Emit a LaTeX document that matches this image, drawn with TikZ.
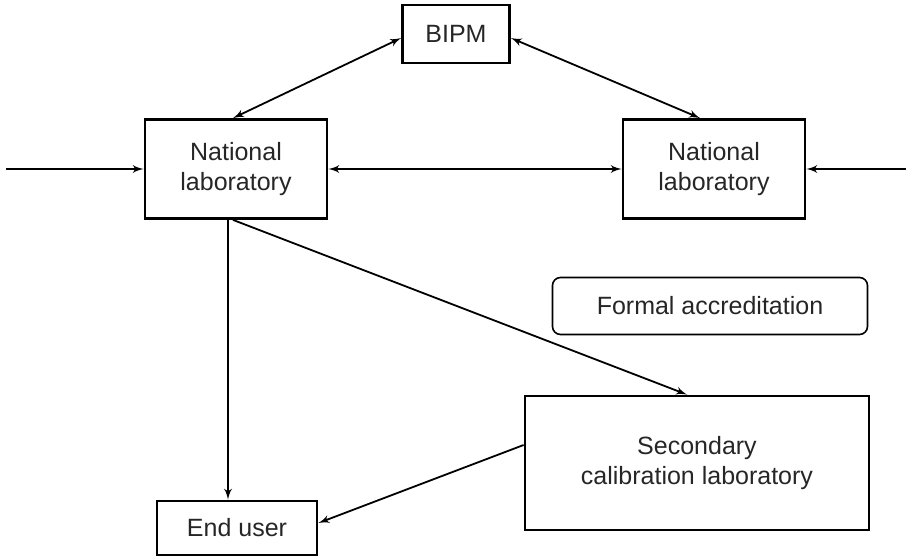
\documentclass[tikz,border=0pt]{standalone}
\usepackage{fontspec}
\setmainfont{Liberation Sans}
\usepackage{tikz}
\usetikzlibrary{shapes,arrows}
\tikzstyle{labbox} = [rectangle, draw, line width=1.4pt, align=center,
    inner sep=0pt, text=black!85, font=\fontsize{12.5}{14.7}\selectfont]
\tikzstyle{notebox} = [rectangle, draw, line width=0.8pt, rounded corners=4pt,
    inner sep=0pt, text=black!85, font=\fontsize{12.5}{14.7}\selectfont]
\tikzstyle{link} = [draw, line width=0.9pt, -latex']
\tikzstyle{dlink} = [draw, line width=0.9pt, latex'-latex']

\begin{document}
\begin{tikzpicture}[x=0.5pt, y=-0.5pt]
    \useasboundingbox (0,0) rectangle (906,558);
    \node[labbox, minimum width=53.5pt, minimum height=29pt] (bipm) at (456,34) {BIPM};
    \node[labbox, minimum width=91pt, minimum height=49.5pt] (natl) at (236,169) {National\\laboratory};
    \node[labbox, minimum width=91pt, minimum height=49.5pt] (natr) at (714,169) {National\\laboratory};
    \node[notebox, minimum width=157.5pt, minimum height=28.5pt] (accr) at (710,306) {Formal accreditation};
    \node[labbox, minimum width=172pt, minimum height=67pt] (second) at (697,463) {Secondary\\calibration laboratory};
    \node[labbox, minimum width=80pt, minimum height=27pt] (enduser) at (237,528) {End user};
    \coordinate (inleft) at (6,169);
    \coordinate (inright) at (906,169);

    % links between the laboratories
    \draw[dlink] ([yshift=-2pt]bipm.west) -- ([xshift=-1.5pt]natl.north);
    \draw[dlink] ([yshift=-2pt]bipm.east) -- ([xshift=-7pt]natr.north);
    \draw[dlink] (natl.east) -- (natr.west);
    \draw[link] (inleft) -- (natl.west);
    \draw[link] (inright) -- (natr.east);

    % down to the users
    \draw[link] ([xshift=-4pt]natl.south) -- ([xshift=-4pt]natl.south |- enduser.north);
    \draw[link] ([xshift=-1.5pt]natl.south) -- ([xshift=-5pt]second.north);
    \draw[link] ([yshift=9pt]second.west) -- ([yshift=2.5pt]enduser.east);
\end{tikzpicture}
\end{document}
